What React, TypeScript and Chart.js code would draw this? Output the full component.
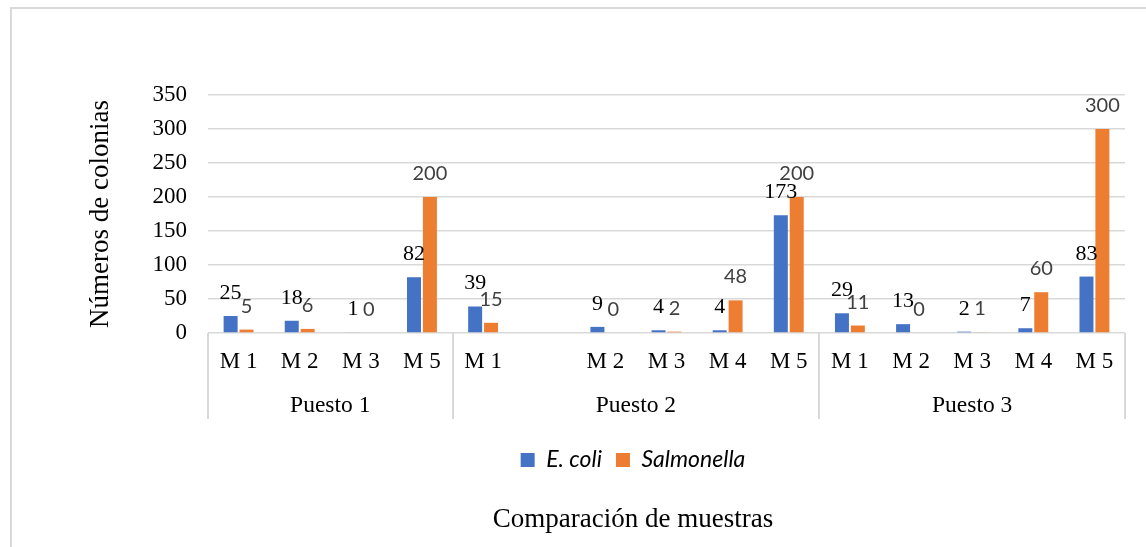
import React, { useEffect, useRef } from "react";
import { Chart, registerables } from "chart.js";

Chart.register(...registerables);

// ---- data ----
const categories = ["M 1", "M 2", "M 3", "M 5", "M 1", "", "M 2", "M 3", "M 4", "M 5", "M 1", "M 2", "M 3", "M 4", "M 5"];
const groupNames = ["Puesto 1", "Puesto 2", "Puesto 3"];
const groupSizes = [4, 6, 5];
const ecoli = [25, 18, 1, 82, 39, null, 9, 4, 4, 173, 29, 13, 2, 7, 83];
const salmonella = [5, 6, 0, 200, 15, null, 0, 2, 48, 200, 11, 0, 1, 60, 300];
const seriesNames = ["E. coli", "Salmonella"];
const yMin = 0;
const yMax = 350;
const yStep = 50;
const yTitle = "Números de colonias";
const xTitle = "Comparación de muestras";

const SERIF = '"Liberation Serif", "Times New Roman", serif';
const SANS = 'Lato, "Open Sans", sans-serif';

const valueLabels = {
  id: "valueLabels",
  afterDatasetsDraw(chart: any) {
    const ctx = chart.ctx;
    chart.data.datasets.forEach((ds: any, di: number) => {
      const meta = chart.getDatasetMeta(di);
      meta.data.forEach((el: any, i: number) => {
        const v = ds.data[i];
        if (v === null || v === undefined) return;
        ctx.save();
        ctx.font = di === 0 ? `22px ${SERIF}` : `20px ${SANS}`;
        ctx.fillStyle = di === 0 ? "#000000" : "#404040";
        ctx.textAlign = "center";
        ctx.textBaseline = "alphabetic";
        ctx.fillText(String(v), el.x, el.y - 17);
        ctx.restore();
      });
    });
  },
};

const groupAxis = {
  id: "groupAxis",
  afterDraw(chart: any) {
    const xs = chart.scales.x;
    const area = chart.chartArea;
    const ctx = chart.ctx;
    const n = categories.length;
    const edge = (i: number) => {
      if (i <= 0) return xs.left;
      if (i >= n) return xs.right;
      return (xs.getPixelForTick(i - 1) + xs.getPixelForTick(i)) / 2;
    };
    ctx.save();
    ctx.strokeStyle = "#d9d9d9";
    ctx.lineWidth = 2;
    let start = 0;
    const bounds: number[] = [0];
    groupSizes.forEach((s) => {
      start += s;
      bounds.push(start);
    });
    bounds.forEach((b) => {
      const x = Math.round(edge(b));
      ctx.beginPath();
      ctx.moveTo(x, area.bottom);
      ctx.lineTo(x, area.bottom + 86);
      ctx.stroke();
    });
    ctx.font = `23.5px ${SERIF}`;
    ctx.fillStyle = "#000000";
    ctx.textAlign = "center";
    ctx.textBaseline = "alphabetic";
    groupNames.forEach((g, gi) => {
      const s = bounds[gi];
      const e = bounds[gi + 1] - 1;
      const cx = (xs.getPixelForTick(s) + xs.getPixelForTick(e)) / 2;
      ctx.fillText(g, cx, area.bottom + 79);
    });
    ctx.restore();
  },
};

export default function App() {
  const ref = useRef<HTMLCanvasElement | null>(null);

  useEffect(() => {
    if (!ref.current) return;
    const chart = new Chart(ref.current, {
      type: "bar",
      data: {
        labels: categories,
        datasets: [
          {
            label: seriesNames[0],
            data: ecoli,
            backgroundColor: "#4472C4",
            borderWidth: 0,
            categoryPercentage: 0.52,
            barPercentage: 0.88,
          },
          {
            label: seriesNames[1],
            data: salmonella,
            backgroundColor: "#ED7D31",
            borderWidth: 0,
            categoryPercentage: 0.52,
            barPercentage: 0.88,
          },
        ],
      },
      options: {
        responsive: false,
        maintainAspectRatio: false,
        animation: false,
        events: [],
        layout: { padding: { left: 141, right: 21, top: 95, bottom: 10.8 } },
        scales: {
          x: {
            grid: { display: false, drawTicks: false },
            border: { display: false },
            ticks: {
              autoSkip: false,
              maxRotation: 0,
              minRotation: 0,
              padding: 15,
              color: "#000000",
              font: { family: SERIF, size: 23 },
            },
            afterFit: (s: any) => {
              s.height = 101.5;
            },
          },
          y: {
            min: yMin,
            max: yMax,
            grid: { color: "#d9d9d9", lineWidth: 1.5, drawTicks: false },
            border: { display: false },
            ticks: {
              stepSize: yStep,
              padding: 21,
              color: "#000000",
              font: { family: SERIF, size: 23 },
            },
            title: {
              display: true,
              text: yTitle,
              color: "#000000",
              font: { family: SERIF, size: 27 },
              padding: { top: -56.2, bottom: 0 },
            },
            afterFit: (s: any) => {
              s.width = 67;
            },
          },
        },
        plugins: {
          tooltip: { enabled: false },
          legend: {
            display: true,
            position: "bottom",
            labels: {
              boxWidth: 14,
              boxHeight: 14,
              padding: 14,
              color: "#000000",
              font: { family: SANS, size: 23, style: "italic" },
            },
          },
          title: {
            display: true,
            position: "bottom",
            text: xTitle,
            color: "#000000",
            font: { family: SERIF, size: 27, weight: "normal" },
            padding: { top: 22.3, bottom: 0 },
          },
        },
      },
      plugins: [valueLabels, groupAxis],
    } as any);
    return () => chart.destroy();
  }, []);

  return (
    <div
      style={{
        position: "fixed",
        left: 0,
        top: 0,
        width: 1146,
        height: 547,
        overflow: "hidden",
        background: "#ffffff",
      }}
    >
      <div
        style={{
          position: "absolute",
          left: 10,
          top: 7,
          width: 1300,
          height: 700,
          borderLeft: "2px solid #d9d9d9",
          borderTop: "2px solid #d9d9d9",
        }}
      />
      <canvas
        ref={ref}
        width={1146}
        height={547}
        style={{ position: "absolute", left: 0, top: 0, width: 1146, height: 547 }}
      />
    </div>
  );
}
